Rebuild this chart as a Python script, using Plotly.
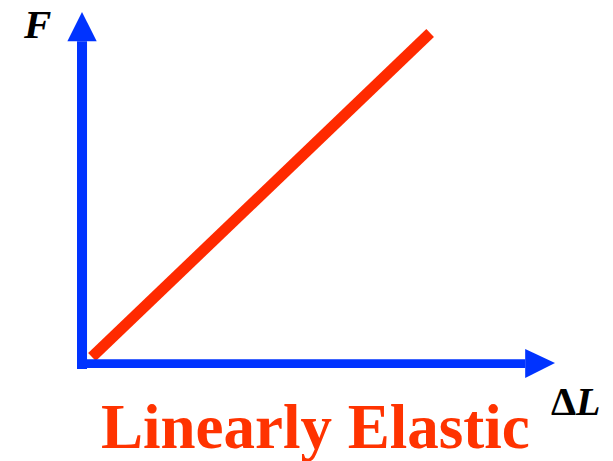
import plotly.graph_objects as go

# Data (arbitrary units): linear elastic force vs. extension
delta_L = [0.21, 7.36]
force = [0.17, 9.40]

title_text = "Linearly Elastic"
x_label = "Δ<i>L</i>"
y_label = "<i>F</i>"

BLUE = "#0033ff"
RED = "#ff2a00"
TEXT_RED = "#ff3300"
SERIF = "Liberation Serif"

fig = go.Figure()
fig.add_trace(go.Scatter(x=delta_L, y=force, mode="lines",
                         line=dict(color=RED, width=11), hoverinfo="skip"))

# axis arrows (decoration)
shapes = [
    dict(type="rect", xref="x", yref="y", x0=-0.106, x1=0.106, y0=-0.17, y1=9.17,
         fillcolor=BLUE, line=dict(width=0)),
    dict(type="path", xref="x", yref="y", path="M -0.31 9.17 L 0.31 9.17 L 0.0 10.0 Z",
         fillcolor=BLUE, line=dict(width=0)),
    dict(type="rect", xref="x", yref="y", x0=-0.06, x1=9.37, y0=-0.14, y1=0.11,
         fillcolor=BLUE, line=dict(width=0)),
    dict(type="path", xref="x", yref="y", path="M 9.37 0.40 L 9.37 -0.43 L 10.0 0.0 Z",
         fillcolor=BLUE, line=dict(width=0)),
]

annotations = [
    dict(x=-0.95, y=9.66, xref="x", yref="y", text="<b>" + y_label + "</b>", showarrow=False,
         font=dict(family=SERIF, size=41, color="black"),
         xanchor="center", yanchor="middle"),
    dict(x=10.44, y=-1.11, xref="x", yref="y", text="<b>" + x_label + "</b>", showarrow=False,
         font=dict(family=SERIF, size=40, color="black"),
         xanchor="center", yanchor="middle"),
    dict(x=4.93, y=-1.82, xref="x", yref="y", text="<b>" + title_text + "</b>", showarrow=False,
         font=dict(family=SERIF, size=63, color=TEXT_RED),
         xanchor="center", yanchor="middle"),
]

fig.update_layout(
    width=613, height=461,
    margin=dict(l=0, r=0, t=0, b=0),
    paper_bgcolor="white", plot_bgcolor="white",
    showlegend=False,
    xaxis=dict(range=[-1.734, 11.226], visible=False, fixedrange=True),
    yaxis=dict(range=[-2.792, 10.342], visible=False, fixedrange=True),
    shapes=shapes,
    annotations=annotations,
)

fig.write_html("out.html", config={"displayModeBar": False},
               post_script="document.body.style.margin='0px';document.body.style.overflow='hidden';")
